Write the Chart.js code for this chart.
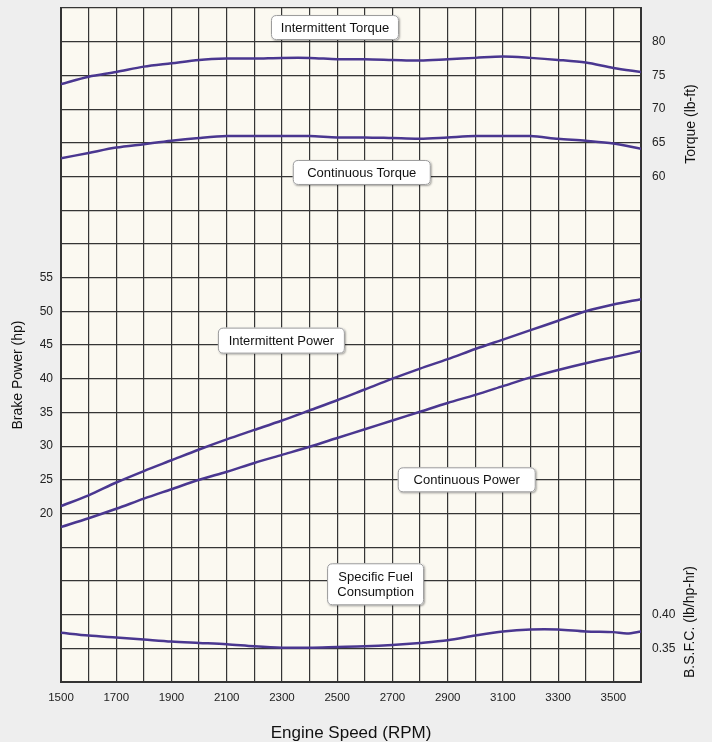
<!DOCTYPE html>
<html>
<head>
<meta charset="utf-8">
<script src="https://cdn.jsdelivr.net/npm/chart.js@4"></script>
<style>
  html, body { margin: 0; padding: 0; background: #eeeeee; }
  #chart { display: block; }
</style>
</head>
<body>
<canvas id="chart" width="712" height="742"></canvas>
<script>
// engine speed (RPM)
const rpm = [1500, 1600, 1700, 1800, 1900, 2000, 2100, 2200, 2300, 2400, 2500,
             2600, 2700, 2800, 2900, 3000, 3100, 3200, 3300, 3400, 3500, 3600];

// torque (lb-ft)
const intermittentTorque = [73.7, 74.8, 75.5, 76.3, 76.8, 77.3, 77.5, 77.5, 77.6, 77.6, 77.4,
                            77.4, 77.3, 77.2, 77.4, 77.6, 77.8, 77.6, 77.3, 76.9, 76.1, 75.5];
const continuousTorque = [62.7, 63.5, 64.3, 64.8, 65.3, 65.7, 66.0, 66.0, 66.0, 66.0, 65.8,
                          65.8, 65.7, 65.6, 65.8, 66.0, 66.0, 66.0, 65.6, 65.3, 64.9, 64.1];

// brake power (hp)
const intermittentPower = [21.1, 22.7, 24.6, 26.3, 27.9, 29.5, 31.0, 32.4, 33.8, 35.3, 36.8,
                           38.4, 40.0, 41.5, 42.9, 44.4, 45.8, 47.2, 48.6, 50.0, 51.0, 51.8];
const continuousPower = [18.0, 19.3, 20.7, 22.2, 23.6, 25.0, 26.2, 27.5, 28.7, 29.9, 31.2,
                         32.5, 33.8, 35.1, 36.4, 37.6, 38.9, 40.2, 41.3, 42.3, 43.2, 44.1];

// specific fuel consumption (lb/hp-hr)
const bsfcRpm = [1500, 1600, 1700, 1800, 1900, 2000, 2100, 2200, 2300, 2400, 2500, 2600,
                 2700, 2800, 2900, 3000, 3100, 3200, 3300, 3400, 3500, 3550, 3600];
const bsfc = [0.373, 0.369, 0.366, 0.363, 0.360, 0.358, 0.356, 0.353, 0.351, 0.351, 0.352, 0.353,
              0.355, 0.358, 0.362, 0.369, 0.375, 0.378, 0.378, 0.375, 0.374, 0.372, 0.375];

// labelled ticks
const xTickLabels = [1500, 1700, 1900, 2100, 2300, 2500, 2700, 2900, 3100, 3300, 3500];
const powerTicks = [20, 25, 30, 35, 40, 45, 50, 55];
const torqueTicks = [60, 65, 70, 75, 80];
const bsfcTicks = [0.35, 0.40];

// axis ranges (all share the same 20 gridline intervals)
const hpRange = [-5, 95];
const tqRange = [-15, 85];
const bsfcRange = [0.30, 1.30];

const LINE = '#4a3790';
const GRID = '#353535';
const FONT = '"Liberation Sans", Arial, sans-serif';

const pts = (xs, ys) => xs.map((x, i) => ({ x: x, y: ys[i] }));

// curve labels, placed in data coordinates
const notes = [
    { text: ['Intermittent Torque'], x: 2492, y: 82.1, axis: 'yTq', w: 128, h: 25 },
    { text: ['Continuous Torque'], x: 2589, y: 60.6, axis: 'yTq', w: 138, h: 25 },
    { text: ['Intermittent Power'], x: 2298, y: 45.65, axis: 'yHp', w: 127, h: 26 },
    { text: ['Continuous Power'], x: 2969, y: 25.0, axis: 'yHp', w: 138, h: 25 },
    { text: ['Specific Fuel', 'Consumption'], x: 2639, y: 0.445, axis: 'yBsfc', w: 97, h: 42 }
];

const roundRect = (c, x, y, w, h, r) => {
    c.beginPath();
    c.moveTo(x + r, y);
    c.lineTo(x + w - r, y);
    c.quadraticCurveTo(x + w, y, x + w, y + r);
    c.lineTo(x + w, y + h - r);
    c.quadraticCurveTo(x + w, y + h, x + w - r, y + h);
    c.lineTo(x + r, y + h);
    c.quadraticCurveTo(x, y + h, x, y + h - r);
    c.lineTo(x, y + r);
    c.quadraticCurveTo(x, y, x + r, y);
    c.closePath();
};

const plotBg = {
    id: 'plotBg',
    beforeDraw(chart) {
        const { ctx, chartArea: a } = chart;
        ctx.save();
        ctx.fillStyle = '#fbf9f1';
        ctx.fillRect(a.left, a.top, a.right - a.left, a.bottom - a.top);
        ctx.restore();
    }
};

const extras = {
    id: 'extras',
    afterDraw(chart) {
        const c = chart.ctx;
        const a = chart.chartArea;
        c.save();

        // boxed curve labels
        notes.forEach(n => {
            const cx = chart.scales.x.getPixelForValue(n.x);
            const cy = chart.scales[n.axis].getPixelForValue(n.y);
            const x = cx - n.w / 2, y = cy - n.h / 2;
            c.save();
            c.shadowColor = 'rgba(0,0,0,0.35)';
            c.shadowBlur = 2;
            c.shadowOffsetX = 1;
            c.shadowOffsetY = 1;
            roundRect(c, x, y, n.w, n.h, 5);
            c.fillStyle = '#ffffff';
            c.fill();
            c.restore();
            roundRect(c, x + 0.5, y + 0.5, n.w - 1, n.h - 1, 5);
            c.strokeStyle = '#9a9a9a';
            c.lineWidth = 1;
            c.stroke();
            c.fillStyle = '#111';
            c.font = '13px ' + FONT;
            c.textAlign = 'center';
            c.textBaseline = 'middle';
            const lh = 15;
            n.text.forEach((t, i) => {
                c.fillText(t, cx, cy + (i - (n.text.length - 1) / 2) * lh + 0.5);
            });
        });

        // axis titles
        c.fillStyle = '#111';
        c.textAlign = 'center';
        c.textBaseline = 'middle';
        c.font = '17px ' + FONT;
        c.fillText('Engine Speed (RPM)', (a.left + a.right) / 2, 733);

        const vTitle = (text, x, y) => {
            c.save();
            c.translate(x, y);
            c.rotate(-Math.PI / 2);
            c.font = '14px ' + FONT;
            c.fillText(text, 0, 0);
            c.restore();
        };
        vTitle('Brake Power (hp)', 18, 375);
        vTitle('Torque (lb-ft)', 691, 124);
        vTitle('B.S.F.C. (lb/hp-hr)', 690, 622);
        c.restore();
    }
};

const line = (label, data, axis) => ({
    label: label,
    data: data,
    yAxisID: axis,
    borderColor: LINE,
    borderWidth: 2.5,
    pointRadius: 0,
    tension: 0.3,
    fill: false
});

// fixed axis sizes so the plot box lands where the original one is
const fitY = w => s => { s.width = w; s.paddingTop = 0; s.paddingBottom = 0; };
const fitX = h => s => { s.height = h; s.paddingLeft = 0; s.paddingRight = 0; };

const ctx = document.getElementById('chart').getContext('2d');
const myChart = new Chart(ctx, {
    type: 'line',
    data: {
        datasets: [
            line('Intermittent Torque', pts(rpm, intermittentTorque), 'yTq'),
            line('Continuous Torque', pts(rpm, continuousTorque), 'yTq'),
            line('Intermittent Power', pts(rpm, intermittentPower), 'yHp'),
            line('Continuous Power', pts(rpm, continuousPower), 'yHp'),
            line('Specific Fuel Consumption', pts(bsfcRpm, bsfc), 'yBsfc')
        ]
    },
    options: {
        responsive: false,
        animation: false,
        layout: { padding: { top: 8, left: 0, right: 0, bottom: 0 } },
        plugins: {
            legend: { display: false },
            tooltip: { enabled: false }
        },
        scales: {
            x: {
                type: 'linear',
                min: 1500,
                max: 3600,
                afterFit: fitX(60),
                grid: { color: GRID, lineWidth: 1.2, drawTicks: false },
                border: { color: '#333', width: 2 },
                ticks: {
                    stepSize: 100,
                    autoSkip: false,
                    maxRotation: 0,
                    padding: 9,
                    color: '#222',
                    font: { family: FONT, size: 11.5 },
                    callback: v => xTickLabels.includes(v) ? String(v) : ''
                }
            },
            yHp: {
                type: 'linear',
                position: 'left',
                min: hpRange[0],
                max: hpRange[1],
                afterFit: fitY(61),
                grid: { color: GRID, lineWidth: 1.2, drawTicks: false },
                border: { color: '#333', width: 2 },
                ticks: {
                    stepSize: 5,
                    autoSkip: false,
                    padding: 8,
                    color: '#222',
                    font: { family: FONT, size: 12 },
                    callback: v => powerTicks.includes(v) ? String(v) : ''
                }
            },
            yTq: {
                type: 'linear',
                position: 'right',
                min: tqRange[0],
                max: tqRange[1],
                afterFit: fitY(71),
                grid: { display: false, drawTicks: false },
                border: { color: '#333', width: 2 },
                ticks: {
                    stepSize: 5,
                    autoSkip: false,
                    padding: 11,
                    color: '#222',
                    font: { family: FONT, size: 12 },
                    callback: v => {
                        if (torqueTicks.includes(v)) return String(v);
                        // the same gridlines also carry the fuel consumption scale
                        const f = (v - tqRange[0]) / (tqRange[1] - tqRange[0]);
                        const val = Math.round((bsfcRange[0] + f * (bsfcRange[1] - bsfcRange[0])) * 100) / 100;
                        return bsfcTicks.some(t => Math.abs(t - val) < 1e-6) ? val.toFixed(2) : '';
                    }
                }
            },
            yBsfc: {
                type: 'linear',
                display: false,
                min: bsfcRange[0],
                max: bsfcRange[1]
            }
        }
    },
    plugins: [plotBg, extras]
});
</script>
</body>
</html>
